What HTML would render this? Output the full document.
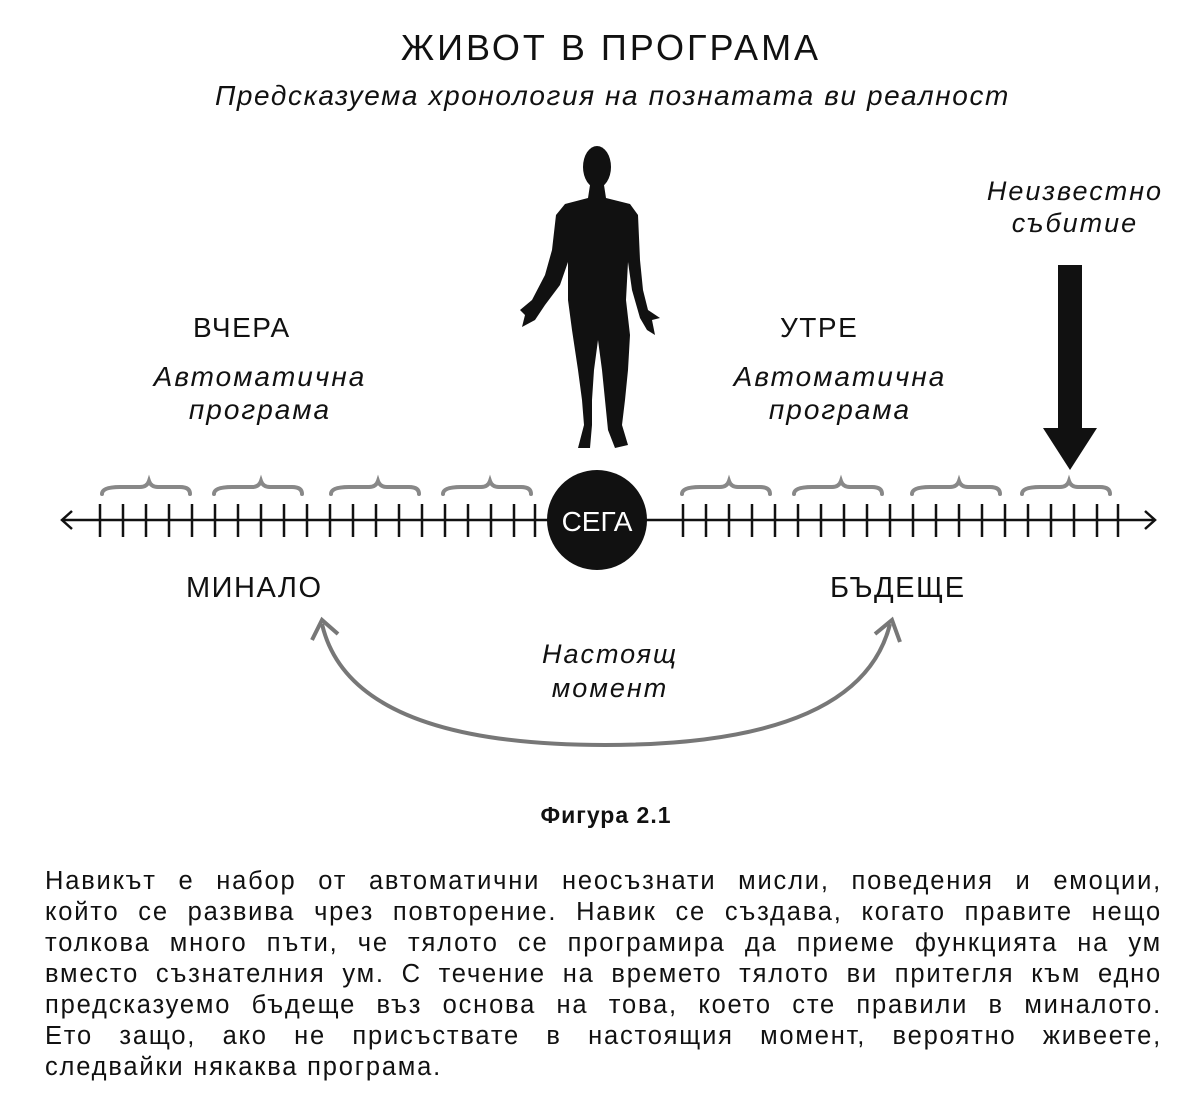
<!DOCTYPE html>
<html><head><meta charset="utf-8"><style>
body{margin:0;background:#fff;}
#c{position:relative;width:1200px;height:1113px;overflow:hidden;font-family:"Liberation Sans",sans-serif;color:#111;}
.t{position:absolute;white-space:nowrap;}
.p{position:absolute;left:45px;width:1117px;font-size:25.5px;line-height:31px;letter-spacing:1.8px;}
.p div{text-align:justify;text-align-last:justify;height:31px;white-space:nowrap;}
.p div.l{text-align-last:left;}
.i{font-style:italic;letter-spacing:2px;}
</style></head><body><div id="c">
<div class="t" style="left:0;width:1222px;text-align:center;top:27px;font-size:36px;letter-spacing:3px;">ЖИВОТ В ПРОГРАМА</div>
<div class="t i" style="left:0;width:1225px;text-align:center;top:80px;font-size:28px;letter-spacing:1.6px;">Предсказуема хронология на познатата ви реалност</div>
<div class="t i" style="left:930px;width:290px;text-align:center;top:175px;font-size:27px;line-height:32px;">Неизвестно<br>събитие</div>
<div class="t" style="left:193px;top:312px;font-size:28px;letter-spacing:1.5px;">ВЧЕРА</div>
<div class="t i" style="left:125px;width:270px;text-align:center;top:360px;font-size:28px;line-height:33px;">Автоматична<br>програма</div>
<div class="t" style="left:780px;top:312px;font-size:28px;letter-spacing:1.5px;">УТРЕ</div>
<div class="t i" style="left:705px;width:270px;text-align:center;top:360px;font-size:28px;line-height:33px;">Автоматична<br>програма</div>
<div class="t" style="left:186px;top:572px;font-size:29px;letter-spacing:1.5px;">МИНАЛО</div>
<div class="t" style="left:830px;top:572px;font-size:29px;letter-spacing:1.5px;">БЪДЕЩЕ</div>
<div class="t i" style="left:480px;width:260px;text-align:center;top:637px;font-size:27px;line-height:34px;">Настоящ<br>момент</div>
<div class="t" style="left:0;width:1212px;text-align:center;top:802px;font-size:23px;font-weight:bold;letter-spacing:1px;">Фигура 2.1</div>
<svg width="1200" height="1113" style="position:absolute;left:0;top:0">
<g stroke="#111" stroke-width="2.5" fill="none">
<line x1="62" y1="520" x2="1155" y2="520"/>
<polyline points="72,511 62,520 72,529"/>
<polyline points="1145,511 1155,520 1145,529"/>
<g id="tk">
<path d="M100,504V537M123,504V537M146,504V537M169,504V537M192,504V537M215,504V537M238,504V537M261,504V537M284,504V537M307,504V537M330,504V537M353,504V537M376,504V537M399,504V537M422,504V537M445,504V537M468,504V537M491,504V537M514,504V537M535,504V537"/>
</g>
<use href="#tk" transform="translate(583,0)"/>
</g>
<g stroke="#888" stroke-width="4" fill="none" stroke-linecap="round">
<path id="br" d="M102,494 Q102,487 120,487 L140,487 Q147,487 149,481 Q151,487 158,487 L180,487 Q190,487 190,494"/>
<use href="#br" transform="translate(112,0)"/>
<use href="#br" transform="translate(229,0)"/>
<use href="#br" transform="translate(341,0)"/>
<use href="#br" transform="translate(580,0)"/>
<use href="#br" transform="translate(692,0)"/>
<use href="#br" transform="translate(810,0)"/>
<use href="#br" transform="translate(920,0)"/>
</g>
<circle cx="597" cy="520" r="50" fill="#111"/>
<text x="597" y="531" font-size="28" fill="#fff" text-anchor="middle" font-family="Liberation Sans">СЕГА</text>
<g fill="#111">
<ellipse cx="597" cy="167" rx="14" ry="21"/>
<path d="M590,185 L604,185 L606,198 L630,204 L638,215 L640,260 L643,290 L648,310 L660,318 L652,320 L655,335 L647,330 L640,318 L632,290 L628,262 L626,300 L630,335 L628,370 L625,400 L622,425 L628,445 L615,448 L608,430 L605,400 L602,370 L598,340 L594,370 L592,400 L592,425 L590,448 L578,448 L584,425 L582,400 L578,370 L572,330 L568,300 L568,262 L560,285 L545,305 L535,320 L522,327 L525,315 L520,310 L532,300 L545,275 L552,250 L556,215 L565,204 L588,198 Z"/>
<rect x="1058" y="265" width="24" height="166"/>
<polygon points="1043,428 1097,428 1070,470"/>
</g>
<g stroke="#777" stroke-width="4" fill="none">
<path d="M322,624 Q350,745 605,745 Q860,745 890,624"/>
<polyline points="312,640 322,620 338,634"/>
<polyline points="875,634 892,620 900,642"/>
</g>
</svg>
<div class="p" style="top:866px;">
<div>Навикът е набор от автоматични неосъзнати мисли, поведения и емоции,</div>
<div>който се развива чрез повторение. Навик се създава, когато правите нещо</div>
<div>толкова много пъти, че тялото се програмира да приеме функцията на ум</div>
<div>вместо съзнателния ум. С течение на времето тялото ви притегля към едно</div>
<div>предсказуемо бъдеще въз основа на това, което сте правили в миналото.</div>
<div>Ето защо, ако не присъствате в настоящия момент, вероятно живеете,</div>
<div class="l">следвайки някаква програма.</div>
</div>
</div></body></html>
